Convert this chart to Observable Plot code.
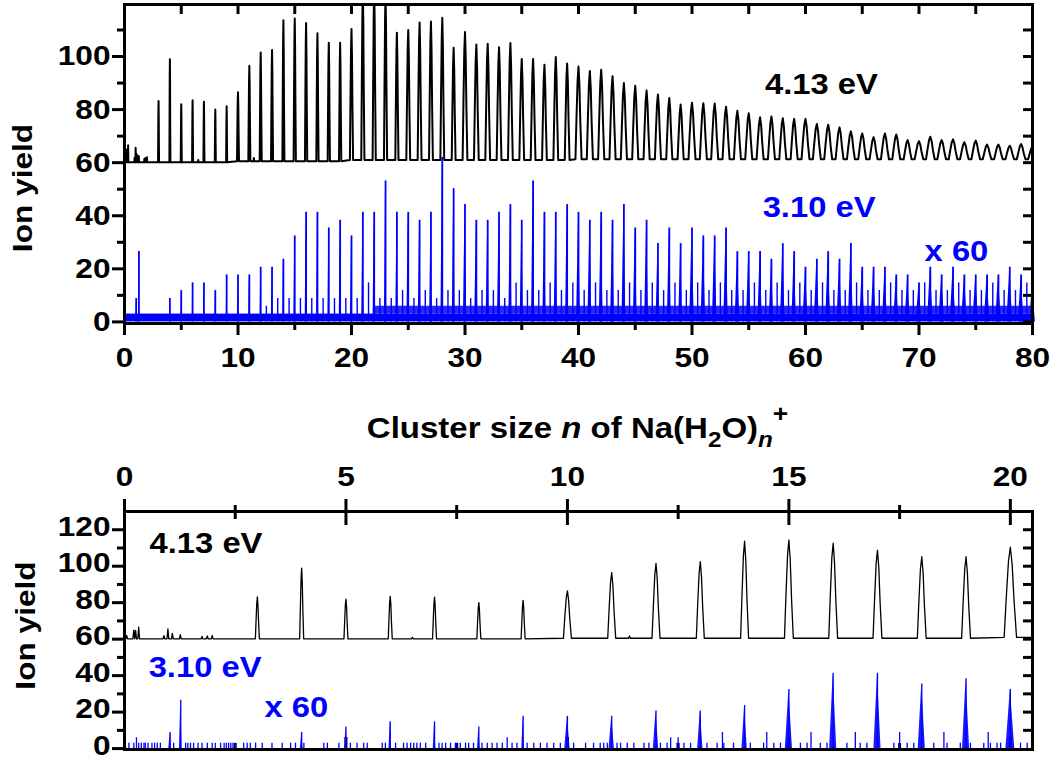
<!DOCTYPE html>
<html>
<head>
<meta charset="utf-8">
<script src="https://cdn.jsdelivr.net/npm/d3@7"></script>
<script src="https://cdn.jsdelivr.net/npm/@observablehq/plot@0.6"></script>
<style>
  html, body { margin: 0; padding: 0; background: #fff; }
  #wrap { position: relative; width: 1057px; height: 761px; overflow: hidden; font-family: "Liberation Sans", Arial, sans-serif; }
  #top { position: absolute; left: 0; top: 0; }
  #bot { position: absolute; left: 0; top: 460px; }
  #title { position: absolute; left: 124px; width: 908px; top: 410px; text-align: center;
           font-weight: bold; font-size: 30px; line-height: 36px; color: #000; white-space: nowrap; }
  #title span.inner { display: inline-block; transform: scaleX(1.1); transform-origin: center; }
  #title sub { font-size: 22px; vertical-align: -9px; line-height: 0; }
  #title sup { font-size: 24px; vertical-align: 16px; line-height: 0; }
</style>
</head>
<body>
<div id="wrap">
  <div id="top"></div>
  <div id="title"><span class="inner">Cluster size <i>n</i> of Na(H<sub>2</sub>O)<sub><i>n</i></sub><sup>+</sup></span></div>
  <div id="bot"></div>
</div>
<script>
// ---------------- data ----------------
const BLUE = "#0000ff";

// cluster sizes of the main peaks
const peakN = [3,4,5,6,7,8,9,10,11,12,13,14,15,16,17,18,19,20,21,22,23,24,25,26,27,28,29,30,
  31,32,33,34,35,36,37,38,39,40,41,42,43,44,45,46,47,48,49,50,51,52,53,54,55,56,57,58,59,60,
  61,62,63,64,65,66,67,68,69,70,71,72,73,74,75,76,77,78,79,80];
// 4.13 eV trace (offset by 60): peak heights
const blackPeakY = [83.2,99,82,83.5,83,80,81.3,86.5,96.5,101.5,102.5,113.7,114.3,112.6,108.8,105.2,105.2,110.4,125,126,124,109,110,112.8,113.2,114.6,103.3,109.2,
  104.5,104.8,103.5,105.1,99.1,99.1,96.9,99.8,97.4,96.2,94.5,95,92.6,90,89,87.2,85.7,84.4,81.9,82.6,82.4,82.3,81.1,79.6,78.6,77.1,77.4,76.7,76.5,76.5,
  74.6,74.3,73.3,71.8,71,69.6,71,70.6,68.5,68.1,69.8,68.5,68.8,67.7,68.3,66.8,66.8,66.4,67,66];
// small features of the 4.13 eV trace
const blackMinorN = [0.05,0.21,0.25,0.32,0.89,0.98,1.08,1.26,1.75,1.87,1.98,6.5,11.4];
const blackMinorY = [62,65,64.8,66.6,61.9,65.6,63.2,62.5,61.5,61.8,62,61,61.8];
// baseline of the 4.13 eV trace, by range of n
const baseFromN = [0,10,20,40];
const blackBase = [60.2,60.5,61,61.3];
// peak half widths (in n) by range of n
const widthFromN = [0,10,15,20,25,30,40,50,60,70];
const blackHalfWidth = [0.045,0.09,0.1,0.14,0.17,0.21,0.27,0.31,0.35,0.38];
const blueHalfWidth = [0.03,0.06,0.08,0.1,0.12,0.14,0.17,0.2,0.22,0.25];

// 3.10 eV trace (x 60): peak heights
const blueN = [0.02,1.03,1.27,4,5,6,7,8,9,10,11,12,13,14,15,16,17,18,19,20,21,22,23,24,25,26,27,28,29,30,
  31,32,33,34,35,36,37,38,39,40,41,42,43,44,45,46,47,48,49,50,51,52,53,54,55,56,57,58,59,60,
  61,62,63,64,65,66,67,68,69,70,71,72,73,74,75,76,77,78,79,80];
const blueY = [8.8,8.8,26.5,8.8,11.8,14.7,14.7,11.8,17.7,17.7,17.7,20.6,20.6,23.6,32.4,41.3,41.3,35.4,38.3,32.4,41.3,41.3,53.1,41.3,41.3,38.3,41.3,62,50.2,44.2,
  38.3,38.3,41.3,44.2,38.3,53.1,41.3,41.3,44.2,41.3,38.3,41.3,38.3,44.2,35.4,38.3,29.5,35.4,29.5,35.4,32.4,32.4,35.4,26.5,26.5,26.5,23.6,29.5,26.5,20.6,
  23.6,26.5,23.6,29.5,20.6,20.6,20.6,17.7,17.7,14.7,20.6,17.7,20.6,17.7,17.7,17.7,17.7,20.6,17.7,14.7];
// spikes between the main peaks of the 3.10 eV trace
const blueMidN = [12.5,13.5,14.5,15.5,16.5,17.5,18.5,19.5,20.5,21.5,22.5,23.5,24.5,25.5,26.5,27.5,28.5,29.5,30.5,
  31.5,32.5,33.5,34.5,35.5,36.5,37.5,38.5,39.5,40.5,41.5,42.5,43.5,44.5,45.5,46.5,47.5,48.5,49.5,50.5,
  51.5,52.5,53.5,54.5,55.5,56.5,57.5,58.5,59.5,60.5,61.5,62.5,63.5,64.5,65.5,66.5,67.5,68.5,69.5,70.5,
  71.5,72.5,73.5,74.5,75.5,76.5,77.5,78.5,79.5];
const blueMidY = [5.9,8.8,8.8,8.8,8.8,8.8,8.8,8.8,8.8,14.7,8.8,8.8,11.8,8.8,11.8,8.8,11.8,11.8,8.8,
  11.8,11.8,8.8,14.7,11.8,11.8,14.7,11.8,14.7,11.8,14.7,11.8,11.8,14.7,11.8,14.7,11.8,14.7,11.8,14.7,
  11.8,14.7,11.8,11.8,14.7,11.8,14.7,11.8,14.7,11.8,14.7,11.8,11.8,14.7,11.8,11.8,14.7,11.8,11.8,14.7,
  11.8,11.8,14.7,11.8,11.8,14.7,11.8,11.8,14.7];
// single-count noise spikes of the 3.10 eV trace
const blueNoiseLevel = [2.95, 5.9];
const blueNoise1N = [0.1,0.21,0.32,0.38,0.44,0.47,0.53,0.62,0.68,0.74,0.81,1.11,1.38,1.43,1.49,1.56,1.66,1.75,1.87,1.98,
  2.05,2.17,2.25,2.3,2.35,2.4,2.45,2.5,2.69,2.77,2.84,2.96,3.11,3.33,3.56,3.75,3.86,4.05,4.5,4.58,4.84,5.1,5.25,5.4,5.48,
  5.82,5.89,6.12,6.3,6.38,6.46,6.53,6.6,6.68,6.8,7.1,7.17,7.25,7.36,7.47,7.51,7.58,7.7,7.77,7.88,8.07,8.19,8.3,8.41,8.53,
  8.75,8.86,9.09,9.24,9.39,9.54,9.69,9.84,10.14,10.41,10.59,10.74,10.82,10.9,11.12,11.2,11.35,11.5,11.73,11.84,12.1,12.25,
  12.48,12.63,12.78,13.15,13.38,13.53,13.75,14.13,14.43,14.66,14.81,15.26,15.41,15.71,15.86,16.31,16.61,16.76,17.37,17.67,
  17.82,18.27,18.57,18.87,19.1,19.4,19.55,19.7,19.78,20.23,20.38];
const blueNoise2N = [0.27,8.64,12.33];
// dense low-level noise bands of the 3.10 eV trace (top panel)
const bandSolid = [{x1: 0, x2: 80, y1: 0, y2: 2.95}];
const bandSparse = [{x1: 22, x2: 80, y1: 2.95, y2: 5.9}];

// labels
const labelText = ["4.13 eV", "3.10 eV", "x 60"];
const labelColor = ["#000", BLUE, BLUE];
const topLabelN = [61.4, 61.2, 73.3];
const topLabelY = [89.4, 43.1, 26.6];
const botLabelN = [1.84, 1.82, 3.88];
const botLabelY = [112.4, 44.1, 22.5];

// axis ticks
const topXMajor = [0,10,20,30,40,50,60,70,80];
const topXMinor = [5,15,25,35,45,55,65,75];
const topXAll = [5,10,15,20,25,30,35,40,45,50,55,60,65,70,75];
const topYMajor = [0,20,40,60,80,100];
const topYMinor = [10,30,50,70,90,110];
const topYAll = [0,10,20,30,40,50,60,70,80,90,100,110];
const botXMajor = [0,5,10,15,20];
const botXMinor = [2.5,7.5,12.5,17.5];
const botYMajor = [0,20,40,60,80,100,120];
const botYMinor = [10,30,50,70,90,110];
const botYAll = [10,20,30,40,50,60,70,80,90,100,110,120];

// peak profile (style): offsets in half widths and fractions of the peak height
const shapeDX = [-1, -0.65, -0.3, 0, 0.3, 0.6, 1];
const shapeFY = [0, 0.45, 0.85, 1, 0.8, 0.4, 0];

// ---------------- build tables ----------------
function lookup(edges, vals, n) { let v = vals[0]; edges.forEach((e, i) => { if (n >= e) v = vals[i]; }); return v; }

const blackPeaks = peakN.map((n, i) => ({n, y: blackPeakY[i], hw: lookup(widthFromN, blackHalfWidth, n), shaped: true}))
  .concat(blackMinorN.map((n, i) => ({n, y: blackMinorY[i], hw: 0.02, shaped: false})))
  .sort((a, b) => a.n - b.n);
const blackTrace = [{x: 0, y: blackBase[0]}];
for (const p of blackPeaks) {
  const b = lookup(baseFromN, blackBase, p.n);
  if (p.shaped) shapeDX.forEach((d, k) => blackTrace.push({x: p.n + d * p.hw, y: b + shapeFY[k] * (p.y - b)}));
  else blackTrace.push({x: p.n - p.hw, y: b}, {x: p.n, y: p.y}, {x: p.n + p.hw, y: b});
}
blackTrace.push({x: 81, y: blackBase[blackBase.length - 1]});

const bluePeaks = blueN.map((n, i) => ({n, y: blueY[i], hw: lookup(widthFromN, blueHalfWidth, n)}));
const blueTri = [];
bluePeaks.forEach((p, i) => {
  blueTri.push({id: i, x: p.n - p.hw, y: 0}, {id: i, x: p.n, y: p.y}, {id: i, x: p.n + p.hw, y: 0});
});
const blueMid = blueMidN.map((n, i) => ({n, y: blueMidY[i]}));
const labelsTop = labelText.map((t, i) => ({t, c: labelColor[i], n: topLabelN[i], v: topLabelY[i]}));
const labelsBot = labelText.map((t, i) => ({t, c: labelColor[i], n: botLabelN[i], v: botLabelY[i]}));

// ---------------- helpers ----------------
const FONT = "Liberation Sans, Arial, sans-serif";
const blank = () => "";
function widen(svg, k) {
  svg.querySelectorAll("text").forEach(t => {
    const tr = t.getAttribute("transform") || "";
    t.setAttribute("transform", `${tr} scale(${k},1)`);
  });
}
const tickStyle = {strokeWidth: 3, strokeLinecap: "butt", label: null};
const tlabel = {fontSize: 28, fontWeight: "bold"};

// ---------------- top panel ----------------
const topPlot = Plot.plot({
  width: 1057, height: 380,
  marginLeft: 124, marginRight: 25, marginTop: 4, marginBottom: 57,
  x: {domain: [0, 80]},
  y: {domain: [-0.6, 119.6]},
  style: {fontFamily: FONT, fontWeight: "bold", color: "#000", background: "transparent", overflow: "visible"},
  marks: [
    Plot.rect(bandSolid, {x1: "x1", x2: "x2", y1: "y1", y2: "y2", fill: BLUE}),
    Plot.rect(bandSparse, {x1: "x1", x2: "x2", y1: "y1", y2: "y2", fill: BLUE, fillOpacity: 0.85}),
    Plot.ruleX(blueMid, {x: "n", y1: 0, y2: "y", stroke: BLUE, strokeWidth: 1.4}),
    Plot.areaY(blueTri, {x: "x", y: "y", z: "id", fill: BLUE}),
    Plot.ruleX(bluePeaks, {x: "n", y1: 0, y2: "y", stroke: BLUE, strokeWidth: 1.8, clip: true}),
    Plot.line(blackTrace, {x: "x", y: "y", stroke: "#000", strokeWidth: 2, clip: true}),
    Plot.text(labelsTop, {x: "n", y: "v", text: "t", fill: "c", fontSize: 29, fontWeight: "bold", textAnchor: "middle", lineAnchor: "middle"}),
    Plot.text(["Ion yield"], {text: d => d, frameAnchor: "left", rotate: -90, dx: -101, dy: 24, fontSize: 28, fontWeight: "bold", textAnchor: "middle", lineAnchor: "middle"}),
    Plot.frame({strokeWidth: 3}),
    Plot.axisX(topXMajor, {anchor: "bottom", tickSize: 12, tickPadding: 12, ...tickStyle, ...tlabel}),
    Plot.axisX(topXMinor, {anchor: "bottom", tickSize: 7, tickFormat: blank, ...tickStyle}),
    Plot.axisX(topXAll, {anchor: "top", tickSize: -9, tickFormat: blank, ...tickStyle}),
    Plot.axisY(topYMajor, {anchor: "left", tickSize: 12, tickPadding: 2, ...tickStyle, ...tlabel}),
    Plot.axisY(topYMinor, {anchor: "left", tickSize: 7, tickFormat: blank, ...tickStyle}),
    Plot.axisY(topYAll, {anchor: "right", tickSize: -10, tickFormat: blank, ...tickStyle})
  ]
});
widen(topPlot, 1.13);
document.getElementById("top").appendChild(topPlot);

// ---------------- bottom panel ----------------
const botPlot = Plot.plot({
  width: 1057, height: 301,
  marginLeft: 124, marginRight: 25, marginTop: 51, marginBottom: 12,
  x: {domain: [0, 20.5]},
  y: {domain: [-0.5, 130]},
  style: {fontFamily: FONT, fontWeight: "bold", color: "#000", background: "transparent", overflow: "visible"},
  marks: [
    Plot.axisX(botXMajor, {anchor: "bottom", tickSize: -12, tickFormat: blank, ...tickStyle}),
    Plot.axisX(botXMinor, {anchor: "bottom", tickSize: -6, tickFormat: blank, ...tickStyle}),
    Plot.ruleX(blueNoise1N, {x: d => d, y1: 0, y2: blueNoiseLevel[0], stroke: BLUE, strokeWidth: 1.3, clip: true}),
    Plot.ruleX(blueNoise2N, {x: d => d, y1: 0, y2: blueNoiseLevel[1], stroke: BLUE, strokeWidth: 1.3, clip: true}),
    Plot.ruleX(blueMid, {x: "n", y1: 0, y2: "y", stroke: BLUE, strokeWidth: 1.3, clip: true}),
    Plot.areaY(blueTri, {x: "x", y: "y", z: "id", fill: BLUE, fillOpacity: 0.9, clip: true}),
    Plot.ruleX(bluePeaks, {x: "n", y1: 0, y2: "y", stroke: BLUE, strokeWidth: 1.3, clip: true}),
    Plot.line(blackTrace, {x: "x", y: "y", stroke: "#000", strokeWidth: 1.3, clip: true}),
    Plot.text(labelsBot, {x: "n", y: "v", text: "t", fill: "c", fontSize: 29, fontWeight: "bold", textAnchor: "middle", lineAnchor: "middle"}),
    Plot.text(["Ion yield"], {text: d => d, frameAnchor: "left", rotate: -90, dx: -98, dy: -5, fontSize: 28, fontWeight: "bold", textAnchor: "middle", lineAnchor: "middle"}),
    Plot.frame({strokeWidth: 3}),
    Plot.axisX(botXMajor, {anchor: "top", tickSize: 13, tickPadding: 13, ...tickStyle, ...tlabel}),
    Plot.axisX(botXMajor, {anchor: "top", tickSize: -13, tickFormat: blank, ...tickStyle}),
    Plot.axisX(botXMinor, {anchor: "top", tickSize: 7, tickFormat: blank, ...tickStyle}),
    Plot.axisX(botXMinor, {anchor: "top", tickSize: -7, tickFormat: blank, ...tickStyle}),
    Plot.axisY(botYMajor, {anchor: "left", tickSize: 12, tickFormat: blank, ...tickStyle}),
    Plot.axisY(botYMajor, {anchor: "left", tickSize: 0, tickPadding: 14, dy: -3, ...tickStyle, ...tlabel}),
    Plot.axisY(botYMinor, {anchor: "left", tickSize: 7, tickFormat: blank, ...tickStyle}),
    Plot.axisY(botYAll, {anchor: "right", tickSize: -10, tickFormat: blank, ...tickStyle})
  ]
});
widen(botPlot, 1.13);
document.getElementById("bot").appendChild(botPlot);
</script>
</body>
</html>
